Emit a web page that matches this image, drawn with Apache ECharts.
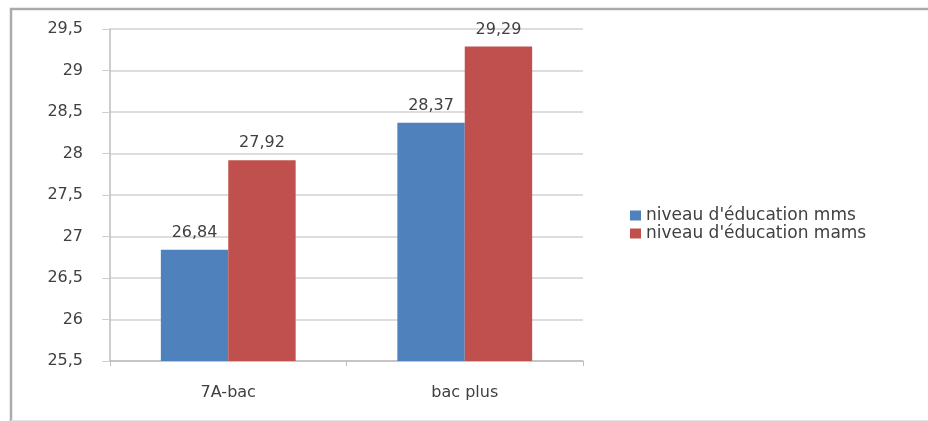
<!DOCTYPE html>
<html>
<head>
<meta charset="utf-8">
<script src="https://cdn.jsdelivr.net/npm/echarts@6/dist/echarts.min.js"></script>
<style>html,body{margin:0;padding:0;background:#fff;overflow:hidden}#c{width:928px;height:421px}</style>
</head>
<body>
<div id="c"></div>
<script>
const categories = ['7A-bac', 'bac plus'];
const seriesNames = ["niveau d'éducation mms", "niveau d'éducation mams"];
const mmsValues = [26.84, 28.37];
const mamsValues = [27.92, 29.29];
const yMin = 25.5, yMax = 29.5, yStep = 0.5;

const fmt = v => String(v).replace('.', ',');
const FONT = 'DejaVu Sans';
const TXT = {fontFamily: FONT, fontSize: 16, fontWeight: 'normal', color: '#404040'};
const chart = echarts.init(document.getElementById('c'), null, {renderer: 'canvas'});
chart.setOption({
  animation: false,
  backgroundColor: '#ffffff',
  textStyle: {fontFamily: FONT},
  graphic: [
    {type: 'polyline', silent: true, shape: {points: [[930, 9], [11, 9], [11, 430]]}, style: {stroke: '#ababab', lineWidth: 2.5, fill: null}},
    {type: 'polyline', silent: true, shape: {points: [[11, 420.5], [930, 420.5]]}, style: {stroke: '#e2e2e2', lineWidth: 1, fill: null}}
  ],
  grid: {left: 110, right: 345, top: 29, bottom: 60, containLabel: false},
  legend: {
    orient: 'vertical', left: 625, top: 202,
    itemWidth: 11, itemHeight: 10, itemGap: 1,
    icon: 'rect',
    textStyle: Object.assign({}, TXT, {fontSize: 17}),
    data: seriesNames
  },
  xAxis: {
    type: 'category', data: categories,
    axisLine: {lineStyle: {color: '#bdbdbd', width: 1.5}},
    axisTick: {show: true, length: 5, lineStyle: {color: '#bdbdbd'}},
    axisLabel: Object.assign({margin: 24}, TXT)
  },
  yAxis: {
    type: 'value', min: yMin, max: yMax, interval: yStep,
    axisLine: {show: true, lineStyle: {color: '#bdbdbd', width: 1.5}},
    axisTick: {show: true, length: 8, lineStyle: {color: '#cfcfcf'}},
    splitLine: {lineStyle: {color: '#d2d2d2', width: 1.5}},
    axisLabel: Object.assign({margin: 27, formatter: fmt}, TXT)
  },
  series: [
    {
      name: seriesNames[0], type: 'bar', data: mmsValues,
      barGap: '0%', barCategoryGap: '43%',
      itemStyle: {color: '#4F81BD'},
      label: Object.assign({show: true, position: 'top', distance: 9, formatter: p => fmt(p.value)}, TXT)
    },
    {
      name: seriesNames[1], type: 'bar', data: mamsValues,
      barGap: '0%', barCategoryGap: '43%',
      itemStyle: {color: '#C0504D'},
      label: Object.assign({show: true, position: 'top', distance: 9, formatter: p => fmt(p.value)}, TXT)
    }
  ]
});
</script>
</body>
</html>
